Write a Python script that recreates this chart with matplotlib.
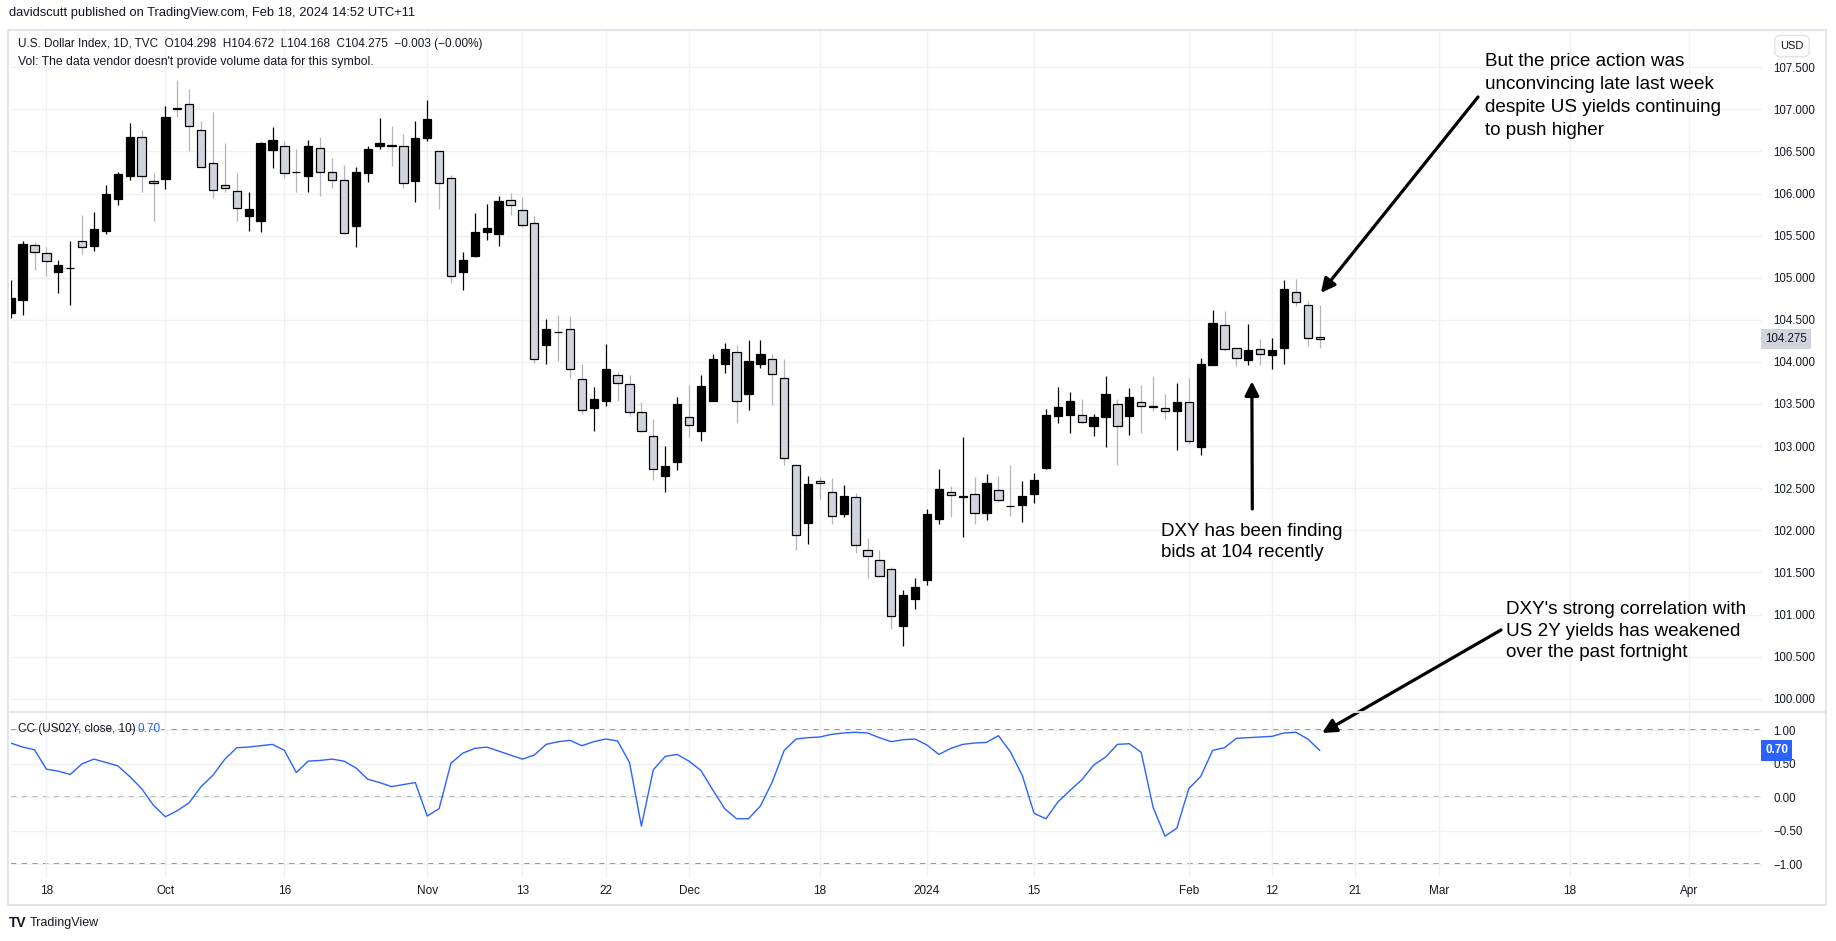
# -*- coding: utf-8 -*-
# DXY daily candles with a US02Y correlation pane, TradingView style

import numpy as np
import pandas as pd
import matplotlib
matplotlib.use('Agg')
import matplotlib.pyplot as plt
import matplotlib.transforms as mtransforms
from matplotlib.patches import Rectangle
from matplotlib.lines import Line2D
from matplotlib.ticker import FuncFormatter

plt.rcParams['font.family'] = ['Liberation Sans', 'DejaVu Sans']

# ---- data ----
sessions = pd.bdate_range('2023-09-13', '2024-04-12')
sessions = sessions.drop(pd.to_datetime(['2023-12-25', '2024-01-01']))

opens = [104.58, 104.73, 105.39, 105.29, 105.07, 105.11, 105.43, 105.38, 105.56, 105.93,
         106.21, 106.67, 106.15, 106.17, 107.02, 107.06, 106.76, 106.36, 106.10, 106.03,
         105.73, 105.67, 106.52, 106.57, 106.26, 106.21, 106.54, 106.25, 106.16, 105.61,
         106.24, 106.57, 106.58, 106.57, 106.15, 106.66, 106.50, 106.19, 105.07, 105.26,
         105.54, 105.52, 105.92, 105.80, 105.65, 104.20, 104.35, 104.39, 103.80, 103.45,
         103.54, 103.85, 103.74, 103.41, 103.12, 102.64, 102.81, 103.35, 103.18, 103.54,
         103.98, 104.12, 103.62, 103.98, 104.03, 103.81, 102.77, 102.09, 102.59, 102.46,
         102.19, 102.39, 101.77, 101.65, 101.54, 100.86, 101.19, 101.41, 102.14, 102.46,
         102.40, 102.43, 102.21, 102.48, 102.29, 102.30, 102.43, 102.74, 103.36, 103.37,
         103.37, 103.24, 103.35, 103.50, 103.36, 103.52, 103.48, 103.45, 103.42, 103.52,
         102.99, 103.96, 104.44, 104.16, 104.02, 104.15, 104.08, 104.17, 104.83, 104.67,
         104.298]
highs = [104.97, 105.44, 105.42, 105.36, 105.21, 105.44, 105.74, 105.78, 106.10, 106.26,
         106.84, 106.76, 106.24, 107.04, 107.35, 107.24, 106.86, 106.97, 106.60, 106.24,
         106.02, 106.61, 106.79, 106.62, 106.53, 106.64, 106.67, 106.42, 106.34, 106.31,
         106.57, 106.90, 106.80, 106.71, 106.86, 107.11, 106.51, 106.22, 105.30, 105.77,
         105.88, 105.97, 106.01, 105.96, 105.73, 104.51, 104.56, 104.54, 103.97, 103.70,
         104.21, 103.88, 103.84, 103.52, 103.32, 103.00, 103.58, 103.72, 103.84, 104.09,
         104.23, 104.20, 104.26, 104.26, 104.09, 104.03, 102.79, 102.64, 102.63, 102.62,
         102.54, 102.44, 101.91, 101.77, 101.57, 101.29, 101.43, 102.25, 102.73, 102.53,
         103.11, 102.63, 102.67, 102.64, 102.77, 102.59, 102.68, 103.44, 103.70, 103.64,
         103.56, 103.38, 103.83, 103.56, 103.69, 103.73, 103.83, 103.62, 103.75, 103.81,
         104.05, 104.62, 104.60, 104.16, 104.45, 104.27, 104.28, 104.97, 104.98, 104.72,
         104.672]
lows = [104.52, 104.56, 105.09, 105.02, 104.82, 104.67, 105.28, 105.32, 105.52, 105.86,
        106.16, 106.02, 105.67, 106.05, 106.91, 106.51, 106.31, 105.95, 106.02, 105.67,
        105.56, 105.54, 106.30, 106.19, 106.02, 106.02, 105.97, 106.07, 105.52, 105.37,
        106.14, 106.53, 106.33, 106.07, 105.90, 106.62, 105.82, 104.94, 104.85, 105.25,
        105.45, 105.38, 105.75, 105.60, 103.99, 103.98, 104.01, 103.81, 103.38, 103.18,
        103.48, 103.54, 103.36, 103.17, 102.60, 102.46, 102.72, 103.11, 103.06, 103.53,
        103.87, 103.27, 103.43, 103.93, 103.49, 102.78, 101.77, 101.84, 102.37, 102.07,
        102.16, 101.73, 101.43, 101.44, 100.83, 100.62, 101.07, 101.35, 102.08, 102.16,
        101.92, 102.08, 102.12, 102.34, 102.17, 102.10, 102.32, 102.73, 103.27, 103.15,
        103.27, 103.12, 102.99, 102.77, 103.13, 103.16, 103.42, 103.32, 102.95, 103.02,
        102.90, 103.96, 104.14, 103.95, 103.96, 103.96, 103.91, 103.98, 104.66, 104.19,
        104.168]
closes = [104.76, 105.40, 105.31, 105.20, 105.15, 105.12, 105.36, 105.58, 105.99, 106.23,
          106.67, 106.21, 106.12, 106.91, 107.00, 106.80, 106.32, 106.04, 106.07, 105.83,
          105.82, 106.60, 106.64, 106.24, 106.25, 106.56, 106.25, 106.16, 105.53, 106.26,
          106.53, 106.60, 106.56, 106.12, 106.66, 106.88, 106.12, 105.02, 105.21, 105.54,
          105.59, 105.91, 105.86, 105.62, 104.04, 104.39, 104.35, 103.91, 103.43, 103.56,
          103.91, 103.75, 103.40, 103.18, 102.73, 102.76, 103.50, 103.25, 103.71, 104.04,
          104.15, 103.53, 104.01, 104.09, 103.86, 102.86, 101.95, 102.55, 102.56, 102.17,
          102.41, 101.83, 101.69, 101.46, 100.98, 101.23, 101.33, 102.19, 102.49, 102.42,
          102.41, 102.21, 102.56, 102.36, 102.29, 102.41, 102.60, 103.37, 103.46, 103.54,
          103.29, 103.34, 103.62, 103.24, 103.58, 103.48, 103.46, 103.42, 103.52, 103.06,
          103.97, 104.46, 104.15, 104.05, 104.14, 104.09, 104.14, 104.86, 104.71, 104.28,
          104.275]
# correlation coefficient (US02Y, close, 10)
cc = [0.81, 0.75, 0.71, 0.42, 0.39, 0.34, 0.50, 0.57, 0.52, 0.47,
      0.31, 0.13, -0.12, -0.29, -0.20, -0.08, 0.16, 0.33, 0.57, 0.74,
      0.75, 0.77, 0.79, 0.70, 0.37, 0.54, 0.55, 0.57, 0.54, 0.44,
      0.27, 0.22, 0.16, 0.19, 0.22, -0.28, -0.17, 0.51, 0.66, 0.73,
      0.75, 0.69, 0.63, 0.57, 0.63, 0.79, 0.83, 0.85, 0.77, 0.83,
      0.87, 0.84, 0.52, -0.43, 0.41, 0.61, 0.64, 0.54, 0.40, 0.11,
      -0.17, -0.32, -0.32, -0.13, 0.23, 0.70, 0.87, 0.89, 0.90, 0.94,
      0.96, 0.97, 0.96, 0.89, 0.83, 0.86, 0.87, 0.78, 0.64, 0.73,
      0.79, 0.81, 0.82, 0.92, 0.68, 0.33, -0.24, -0.32, -0.07, 0.10,
      0.26, 0.48, 0.60, 0.79, 0.80, 0.67, -0.15, -0.58, -0.46, 0.13,
      0.31, 0.70, 0.74, 0.88, 0.89, 0.90, 0.91, 0.96, 0.97, 0.87,
      0.70]

tick_dates = ['2023-09-18', '2023-10-02', '2023-10-16', '2023-11-01', '2023-11-13',
              '2023-11-22', '2023-12-01', '2023-12-18', '2024-01-02', '2024-01-15',
              '2024-02-01', '2024-02-12', '2024-02-21', '2024-03-01', '2024-03-18',
              '2024-04-01']
tick_labels = ['18', 'Oct', '16', 'Nov', '13', '22', 'Dec', '18', '2024', '15',
               'Feb', '12', '21', 'Mar', '18', 'Apr']
price_ticks = np.arange(100.0, 107.51, 0.5)
cc_ticks = [-1.0, -0.5, 0.0, 0.5, 1.0]
last_price = 104.275

# ---- layout (pixels) ----
W, H = 1836, 941
X0, XR = 10.7, 1762          # centre of first bar, right edge of plot
BAR_PX = 11.9
TOP, SEP, BOT = 30, 712, 877
TXT = '#131722'

fig = plt.figure(figsize=(W / 100, H / 100), dpi=100)
fig.patch.set_facecolor('white')


def rect(top, bot):
    return [X0 / W, 1 - bot / H, (XR - X0) / W, (bot - top) / H]


def ftext(x, y, s, **kw):
    kw.setdefault('va', 'center')
    kw.setdefault('color', TXT)
    return fig.text(x / W, 1 - y / H, s, **kw)


ax = fig.add_axes(rect(TOP, SEP))
ax2 = fig.add_axes(rect(SEP, BOT))
xmax = (XR - X0) / BAR_PX
for a in (ax, ax2):
    a.set_xlim(0, xmax)
    for s in a.spines.values():
        s.set_visible(False)
    a.set_facecolor('none')

# 107.0 sits at y=109.3 px, 84.2 px per point
ax.set_ylim(107 - (SEP - 109.3) / 84.2, 107 + (109.3 - TOP) / 84.2)
ax2.set_ylim(-(BOT - 797.3) / 67, (797.3 - SEP) / 67)

pos = [sessions.get_loc(pd.Timestamp(d)) for d in tick_dates]

# grids
for a in (ax, ax2):
    a.set_xticks(pos)
    a.grid(True, color='#eef0f5', lw=1.0, zorder=0)
    a.tick_params(length=0)
ax.set_yticks(price_ticks)
ax2.set_yticks(cc_ticks)
ax.tick_params(axis='x', labelbottom=False)
ax2.set_xticklabels(tick_labels)
ax2.tick_params(axis='x', pad=6, labelsize=8.5, labelcolor=TXT)

for a in (ax, ax2):
    a.yaxis.tick_right()
    a.tick_params(axis='y', pad=8, labelsize=8.3, labelcolor=TXT)
ax.yaxis.set_major_formatter(FuncFormatter(lambda v, _: f'{v:.3f}'))
ax2.yaxis.set_major_formatter(
    FuncFormatter(lambda v, _: f'{abs(v):.2f}' if abs(v) < 1e-9 else f'{v:.2f}'.replace('-', '\u2212')))

# candles
o, h, l, c = (np.array(v) for v in (opens, highs, lows, closes))
x = np.arange(len(o))
up = c > o
ax.vlines(x[up], l[up], h[up], color='#000000', lw=0.9, zorder=2)
ax.vlines(x[~up], l[~up], h[~up], color='#b2b5be', lw=0.9, zorder=2)
ax.bar(x, np.abs(c - o), bottom=np.minimum(o, c), width=0.7,
       color=np.where(up, '#000000', '#d1d4dc'), edgecolor='#000000',
       linewidth=0.9, zorder=3)

# correlation pane
ax2.axhline(1, color='#5d606b', lw=1.1, ls=(0, (3.5, 3.5)), zorder=1)
ax2.axhline(0, color='#9598a1', lw=1.1, ls=(0, (3.5, 3.5)), zorder=1)
ax2.axhline(-1, color='#5d606b', lw=1.1, ls=(0, (3.5, 3.5)), zorder=1)
ax2.plot(np.arange(len(cc)), cc, color='#2962ff', lw=1.0, zorder=3)

# last value labels on the scales
lab_x = (1765 - X0) / (XR - X0)
ax.text(lab_x, last_price, f'{last_price:.3f}', size=8.3, color=TXT, va='center', ha='left',
        transform=mtransforms.blended_transform_factory(ax.transAxes, ax.transData),
        bbox=dict(boxstyle='square,pad=0.35', fc='#d1d4dc', ec='none'), zorder=5)
ax2.text(lab_x, cc[-1], f'{cc[-1]:.2f}', size=8.5, color='white', weight='bold', va='center',
         ha='left', transform=mtransforms.blended_transform_factory(ax2.transAxes, ax2.transData),
         bbox=dict(boxstyle='square,pad=0.35', fc='#2962ff', ec='none'), zorder=5)

# frame and pane separator
fig.add_artist(Rectangle((8 / W, 1 - 905 / H), (1826 - 8) / W, (905 - TOP) / H,
                         transform=fig.transFigure, fill=False, ec='#e0e3eb', lw=1.3))
fig.add_artist(Line2D([8 / W, 1826 / W], [1 - SEP / H] * 2, color='#e0e3eb', lw=1.3))

# header texts
ftext(9, 13, 'davidscutt published on TradingView.com, Feb 18, 2024 14:52 UTC+11', size=9.3)
ftext(18, 44, 'U.S. Dollar Index, 1D, TVC  O104.298  H104.672  L104.168  C104.275  '
      '\u22120.003 (\u22120.00%)', size=8.5)
ftext(18, 62, "Vol: The data vendor doesn't provide volume data for this symbol.", size=8.8)
ftext(1792, 46, 'USD', size=8, ha='center',
      bbox=dict(boxstyle='round,pad=0.5,rounding_size=0.5', fc='white', ec='#e0e3eb'))
ftext(18, 729, 'CC (US02Y, close, 10)', size=8.5)
ftext(138, 729, f'{cc[-1]:.2f}', size=8.5, color='#2962ff')
ftext(9, 923, 'TV', size=10, weight='bold', color='#131722')
ftext(30, 923, 'TradingView', size=9, color='#131722')

# annotations
note = dict(size=13.6, color='#000000', va='center', ha='left')
arrow = dict(arrowstyle='-|>', color='black', lw=2.3, mutation_scale=21, shrinkA=0, shrinkB=0)
for i, line in enumerate(['But the price action was', 'unconvincing late last week',
                          'despite US yields continuing', 'to push higher']):
    ftext(1485, 61 + 23.2 * i, line, **note)
for i, line in enumerate(['DXY has been finding', 'bids at 104 recently']):
    ftext(1161, 531 + 21.5 * i, line, **note)
for i, line in enumerate(["DXY's strong correlation with", 'US 2Y yields has weakened',
                          'over the past fortnight']):
    ftext(1506, 610 + 21.2 * i, line, **note)

ax.annotate('', xy=(110.1, 104.82), xycoords='data', xytext=(1478, H - 97),
            textcoords='figure pixels', arrowprops=arrow, annotation_clip=False)
ax.annotate('', xy=(104.3, 103.77), xycoords='data', xytext=(1252.3, H - 509),
            textcoords='figure pixels', arrowprops=arrow, annotation_clip=False)
ax2.annotate('', xy=(110.2, 0.96), xycoords='data', xytext=(1501, H - 630),
             textcoords='figure pixels', arrowprops=arrow, annotation_clip=False)

fig.savefig('out.png', dpi=100, facecolor='white')
